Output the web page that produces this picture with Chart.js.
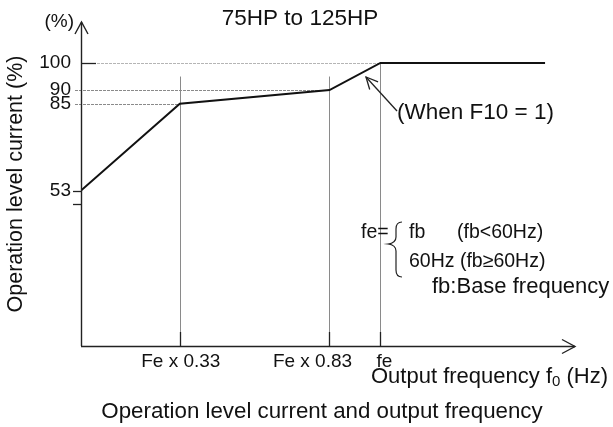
<!DOCTYPE html>
<html>
<head>
<meta charset="utf-8">
<script src="https://cdn.jsdelivr.net/npm/chart.js@4.4.0/dist/chart.umd.min.js"></script>
<style>html,body{margin:0;padding:0;background:#fff}canvas{display:block}</style>
</head>
<body>
<canvas id="c" width="613" height="427"></canvas>
<script>
// Operation level current vs. output frequency (75HP to 125HP)
const freqRatio = [0, 0.33, 0.83, 1.0, 1.55];
const levelPct = [53, 85, 90, 100, 100];
const yTickValues = [48, 53, 85, 90, 100];
const yTickLabels = ['', '53', '85', '90', '100'];
const xTickValues = [0.33, 0.83, 1.0];
const xTickLabels = ['Fe x 0.33', 'Fe x 0.83', 'fe'];
const guideTop = [95, 95, 100];

const FONT = "'Liberation Sans', Arial, Helvetica, sans-serif";
const INK = '#111';

function font(size) { return size + 'px ' + FONT; }

function line(ctx, x1, y1, x2, y2) {
  ctx.beginPath(); ctx.moveTo(x1, y1); ctx.lineTo(x2, y2); ctx.stroke();
}

const guides = {
  id: 'guides',
  beforeDatasetsDraw(chart) {
    const ctx = chart.ctx, xs = chart.scales.x, ys = chart.scales.y;
    const a = chart.chartArea;
    ctx.save();
    ctx.lineWidth = 1;
    // horizontal guides from the y axis to the matching break point
    [[85, 0.33, '#8a8a8a'], [90, 0.83, '#8a8a8a'], [100, 1.0, '#b5b5b5']].forEach(([v, xr, col]) => {
      const y = Math.round(ys.getPixelForValue(v)) + 0.5;
      ctx.strokeStyle = col;
      ctx.setLineDash([3, 1]);
      line(ctx, v === 100 ? a.left : a.left - 6, y, xs.getPixelForValue(xr), y);
    });
    ctx.setLineDash([]);
    // vertical guides from the x axis
    ctx.strokeStyle = '#8a8a8a';
    xTickValues.forEach((v, i) => {
      const x = Math.round(xs.getPixelForValue(v)) + 0.5;
      line(ctx, x, a.bottom, x, ys.getPixelForValue(guideTop[i]));
    });
    ctx.restore();
  },
  afterDraw(chart) {
    const ctx = chart.ctx, xs = chart.scales.x, ys = chart.scales.y;
    const a = chart.chartArea;
    const L = a.left + 0.5, B = a.bottom + 0.5;
    ctx.save();
    ctx.strokeStyle = '#222';
    ctx.lineWidth = 1.4;
    // axes
    line(ctx, L, a.bottom, L, a.top);
    line(ctx, a.left, B, a.right, B);
    // arrow heads
    ctx.beginPath();
    ctx.moveTo(L - 6.5, a.top + 12); ctx.lineTo(L, a.top); ctx.lineTo(L + 6.5, a.top + 12);
    ctx.moveTo(a.right - 13, B - 7); ctx.lineTo(a.right, B); ctx.lineTo(a.right - 13, B + 7);
    ctx.stroke();
    // y tick marks
    ctx.lineWidth = 1.3;
    [48, 53].forEach(v => {
      const y = Math.round(ys.getPixelForValue(v)) + 0.5;
      line(ctx, a.left - 8, y, a.left, y);
    });
    const y100 = Math.round(ys.getPixelForValue(100)) + 0.5;
    line(ctx, a.left, y100, a.left + 15, y100);
    // x tick marks
    xTickValues.forEach(v => {
      const x = Math.round(xs.getPixelForValue(v)) + 0.5;
      line(ctx, x, a.bottom, x, a.bottom - 14);
    });

    ctx.fillStyle = INK;
    ctx.textBaseline = 'middle';
    // x tick labels
    const dx = [1, -17, 4];
    ctx.font = font(19);
    ctx.textAlign = 'center';
    xTickValues.forEach((v, i) => {
      ctx.fillText(xTickLabels[i], xs.getPixelForValue(v) + dx[i], a.bottom + 16);
    });

    // title
    ctx.font = font(22.5);
    ctx.fillText('75HP to 125HP', 300, 19);

    // unit mark at the top of the y axis
    ctx.font = font(19);
    ctx.textAlign = 'right';
    ctx.fillText('(%)', a.left - 7, 22);

    // x axis title with subscript
    ctx.textAlign = 'left';
    const big = font(22), small = font(15);
    const p1 = 'Output frequency f', p2 = '0', p3 = ' (Hz)';
    ctx.font = small; const w2 = ctx.measureText(p2).width;
    ctx.font = big;
    const w1 = ctx.measureText(p1).width, w3 = ctx.measureText(p3).width;
    const x0 = 608 - (w1 + w2 + w3);
    ctx.fillText(p1, x0, 377);
    ctx.font = small;
    ctx.fillText(p2, x0 + w1, 382);
    ctx.font = big;
    ctx.fillText(p3, x0 + w1 + w2, 377);

    // caption
    ctx.textAlign = 'center';
    ctx.font = font(22.3);
    ctx.fillText('Operation level current and output frequency', 322, 412);

    // call-out for the F10 = 1 segment
    ctx.textAlign = 'left';
    ctx.font = font(22.5);
    ctx.fillText('(When F10 = 1)', 397, 113);
    ctx.lineWidth = 1.3;
    const tx = 366, ty = 77;
    line(ctx, 397, 111, tx, ty);
    const ang = Math.atan2(111 - ty, 397 - tx);
    ctx.beginPath();
    ctx.moveTo(tx + 13 * Math.cos(ang - 0.45), ty + 13 * Math.sin(ang - 0.45));
    ctx.lineTo(tx, ty);
    ctx.lineTo(tx + 13 * Math.cos(ang + 0.45), ty + 13 * Math.sin(ang + 0.45));
    ctx.stroke();

    // definition of fe
    ctx.font = font(19.5);
    ctx.fillText('fe=', 361, 233);
    ctx.fillText('fb', 409, 233);
    ctx.fillText('(fb<60Hz)', 457, 233);
    ctx.fillText('60Hz (fb\u226560Hz)', 409, 262);
    ctx.font = font(22);
    ctx.fillText('fb:Base frequency', 432, 287);
    // brace
    ctx.lineWidth = 1.2;
    ctx.beginPath();
    ctx.moveTo(402, 222);
    ctx.quadraticCurveTo(396, 222, 396, 229);
    ctx.lineTo(396, 237);
    ctx.quadraticCurveTo(396, 243, 388, 244);
    ctx.quadraticCurveTo(396, 245, 396, 251);
    ctx.lineTo(396, 270);
    ctx.quadraticCurveTo(396, 277, 402, 277);
    ctx.stroke();
    ctx.restore();
  }
};

new Chart(document.getElementById('c'), {
  type: 'line',
  data: {
    datasets: [{
      data: freqRatio.map((x, i) => ({ x, y: levelPct[i] })),
      borderColor: INK,
      borderWidth: 2,
      pointRadius: 0,
      tension: 0,
      fill: false
    }]
  },
  options: {
    responsive: false,
    animation: false,
    devicePixelRatio: 1,
    layout: { padding: { top: 22, right: 38, bottom: 81, left: 0 } },
    plugins: { legend: { display: false }, tooltip: { enabled: false } },
    scales: {
      x: { type: 'linear', min: 0, max: 1.65, display: false },
      y: {
        type: 'linear',
        min: -4.3,
        max: 115.1,
        afterFit(s) { s.width = 81; },
        afterBuildTicks(s) { s.ticks = yTickValues.map(v => ({ value: v })); },
        ticks: {
          autoSkip: false,
          padding: 10,
          color: INK,
          font: { family: FONT, size: 19 },
          callback: (v, i) => yTickLabels[i]
        },
        grid: { display: false, drawTicks: false },
        border: { display: false },
        title: {
          display: true,
          text: 'Operation level current (%)',
          color: INK,
          font: { family: FONT, size: 21.5 },
          padding: { top: 3, bottom: 0 }
        }
      }
    }
  },
  plugins: [guides]
});
</script>
</body>
</html>
